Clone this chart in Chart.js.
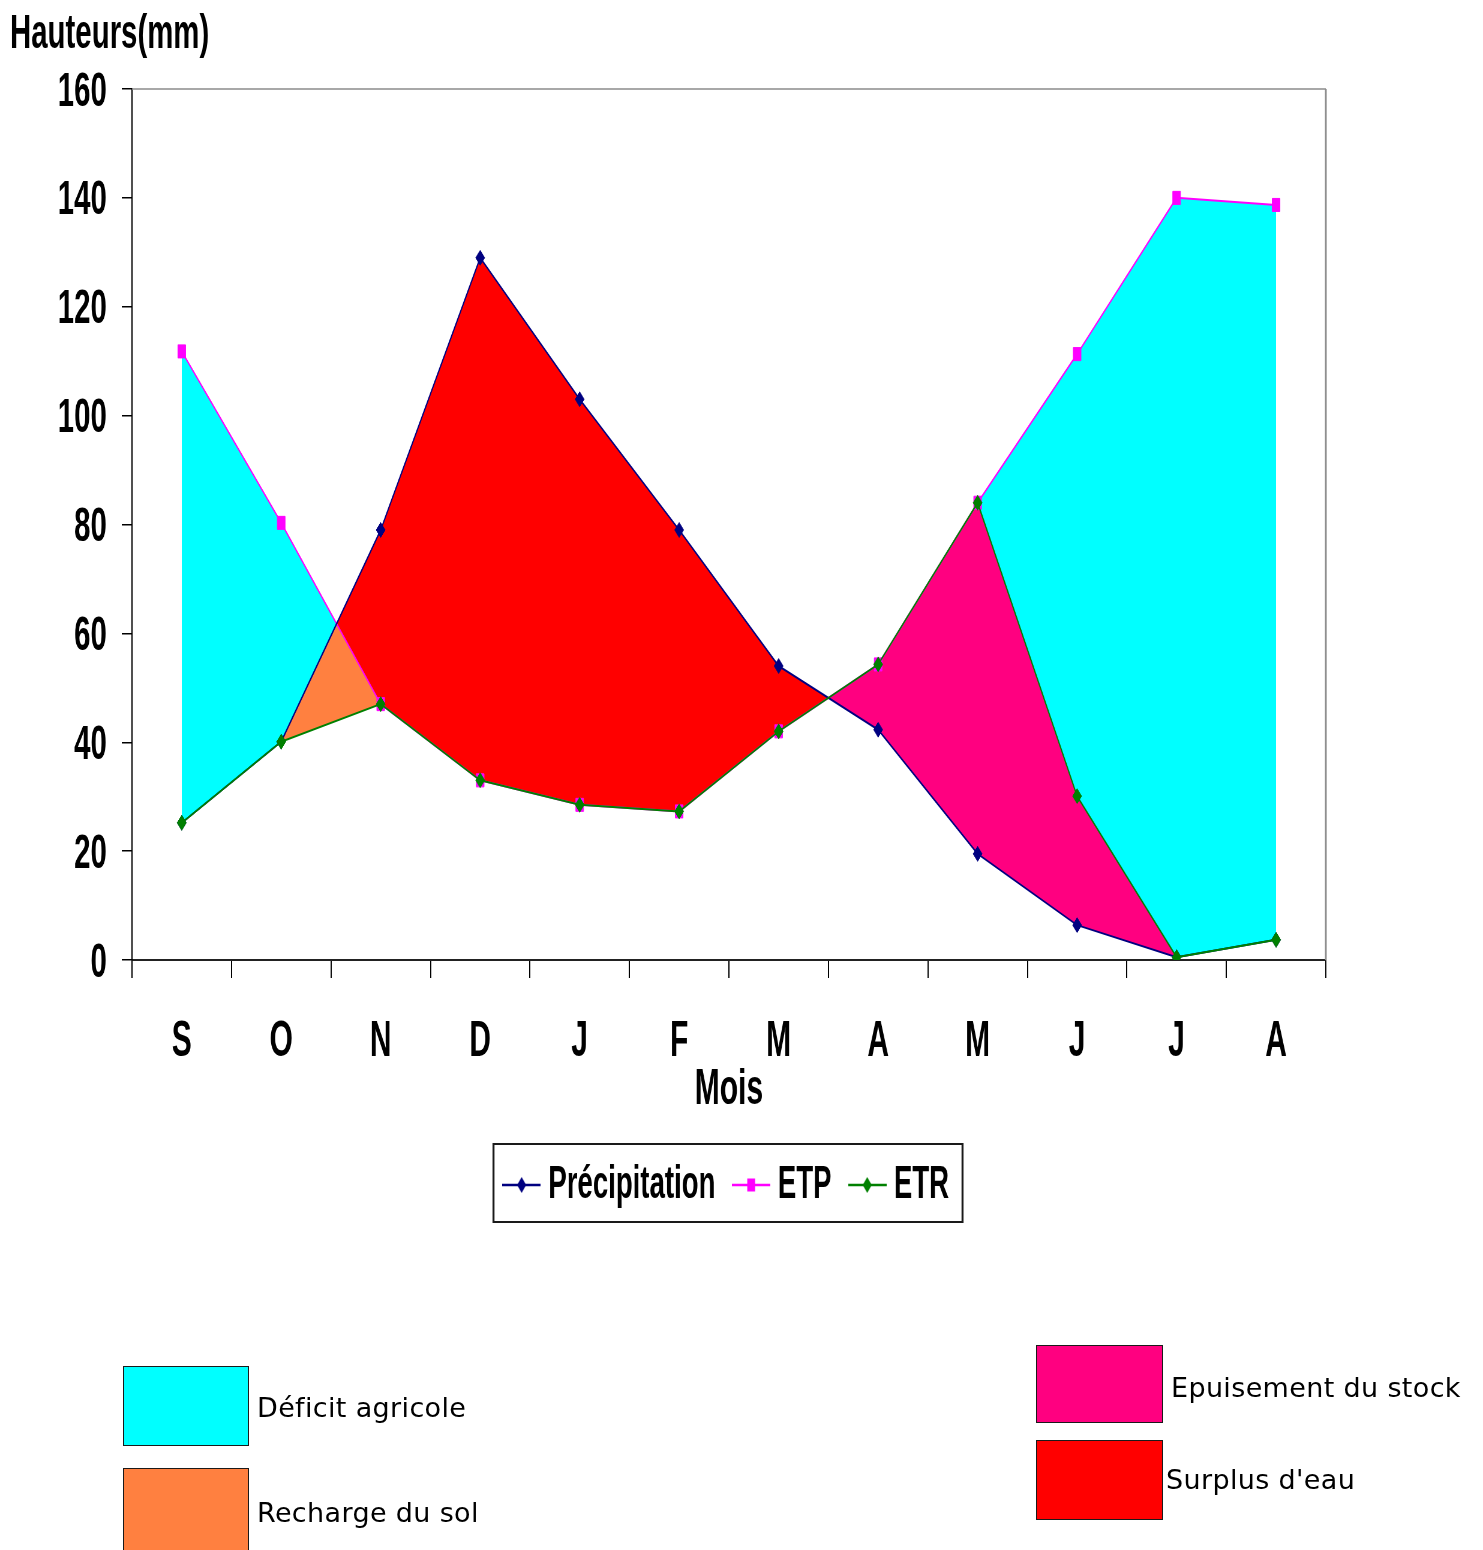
<!DOCTYPE html>
<html>
<head>
<meta charset="utf-8">
<script src="https://cdn.jsdelivr.net/npm/chart.js@4.4.1/dist/chart.umd.min.js"></script>
<style>
html,body{margin:0;padding:0;background:#fff;overflow:hidden;width:1483px;height:1550px;}
#wrap{position:relative;width:1483px;height:1550px;overflow:hidden;}
#c{position:absolute;left:0;top:0;}
.ttl{position:absolute;left:10px;top:7px;font:bold 49px/1 "Liberation Sans",Arial,sans-serif;transform:scaleX(0.6);transform-origin:0 0;white-space:nowrap;color:#000;}
.box{position:absolute;box-sizing:border-box;border:1px solid #1a1a1a;}
.lbl{position:absolute;font:27px/1 "DejaVu Sans",sans-serif;letter-spacing:0.35px;color:#000;white-space:nowrap;}
</style>
</head>
<body>
<div id="wrap">
<canvas id="c" width="2472" height="1550" style="width:1483px;height:1550px"></canvas>
<div class="ttl">Hauteurs(mm)</div>
<div class="box" style="left:123px;top:1366px;width:126px;height:80px;background:#00FFFF"></div>
<div class="lbl" style="left:257px;top:1394px">Déficit agricole</div>
<div class="box" style="left:123px;top:1468px;width:126px;height:100px;background:#FF8040"></div>
<div class="lbl" style="left:257px;top:1499px">Recharge du sol</div>
<div class="box" style="left:1036px;top:1345px;width:127px;height:78px;background:#FF0080"></div>
<div class="lbl" style="left:1171px;top:1374px">Epuisement du stock</div>
<div class="box" style="left:1036px;top:1440px;width:127px;height:80px;background:#FF0000"></div>
<div class="lbl" style="left:1166px;top:1466px">Surplus d'eau</div>
</div>
<script>
// ---- data ----
const months = ['S','O','N','D','J','F','M','A','M','J','J','A'];
const precipitation = [25.2, 40.1, 79, 129, 103, 79, 54, 42.3, 19.5, 6.4, 0.5, 3.7];
const etp = [111.8, 80.3, 47, 33, 28.5, 27.3, 42, 54.3, 84, 111.3, 140, 138.7];
const etr = [25.2, 40.1, 47, 33, 28.5, 27.3, 42, 54.3, 84, 30.1, 0.5, 3.7];
const yTickValues = [0, 20, 40, 60, 80, 100, 120, 140, 160];
const seriesNames = ['Précipitation', 'ETP', 'ETR'];
const xTitle = 'Mois';

// ---- styles ----
const NAVY = '#000080', MAG = '#FF00FF', GREEN = '#008000';
const CYAN = '#00FFFF', RED = '#FF0000', ORANGE = '#FF8040', PINK = '#FF0080';
const CLEAR = 'rgba(0,0,0,0)';
const FONT = '"Liberation Sans", Arial, sans-serif';

function legendSymbol(color, shape) {
  const c = document.createElement('canvas');
  c.width = 64; c.height = 24;
  const g = c.getContext('2d');
  g.strokeStyle = color; g.lineWidth = 2.5;
  g.beginPath(); g.moveTo(0, 12); g.lineTo(64, 12); g.stroke();
  g.fillStyle = color;
  g.beginPath();
  if (shape === 'rect') { g.rect(32 - 6.5, 12 - 6.5, 13, 13); }
  else { g.moveTo(32 - 7.5, 12); g.lineTo(32, 4); g.lineTo(39.5, 12); g.lineTo(32, 20); g.closePath(); }
  g.fill();
  return c;
}
const symbols = [legendSymbol(NAVY, 'diamond'), legendSymbol(MAG, 'rect'), legendSymbol(GREEN, 'diamond')];

const framePlugin = {
  id: 'frame',
  afterDraw(chart) {
    const {ctx, chartArea: a} = chart;
    ctx.save();
    ctx.fillStyle = '#8c8c8c';
    ctx.fillRect(a.left, a.top - 0.75, a.right - a.left, 1.5);
    ctx.fillRect(a.right - 1.5, a.top, 3, a.bottom - a.top);
    const hb = chart.legend && chart.legend.legendHitBoxes;
    if (hb && hb.length) {
      const first = hb[0], last = hb[hb.length - 1];
      const l = first.left - 10 - 17, r = last.left + last.width + 24;
      const t = first.top - 19, b = first.top + first.height + 15;
      ctx.fillStyle = '#1a1a1a';
      ctx.fillRect(l, t, r - l, 2);
      ctx.fillRect(l, b - 2, r - l, 2);
      ctx.fillRect(l, t, 3.3, b - t);
      ctx.fillRect(r - 3.3, t, 3.3, b - t);
    }
    ctx.restore();
  }
};

new Chart(document.getElementById('c'), {
  type: 'line',
  data: {
    labels: months,
    datasets: [
      {label: seriesNames[0], data: precipitation, borderColor: NAVY, backgroundColor: NAVY,
       pointStyle: 'rectRot', pointRadius: 7.5, pointBorderWidth: 1, borderWidth: 2, order: 1,
       fill: {target: 1, above: RED, below: CLEAR}},
      {label: seriesNames[1], data: etp, borderColor: MAG, backgroundColor: MAG,
       pointStyle: 'rect', pointRadius: 9.2, pointBorderWidth: 1, borderWidth: 2, order: 2, fill: false},
      {label: seriesNames[2], data: etr, borderColor: GREEN, backgroundColor: GREEN,
       pointStyle: 'rectRot', pointRadius: 7.5, pointBorderWidth: 1, borderWidth: 2, order: 0, fill: false},
      {label: 'p-etr', data: precipitation, borderColor: CLEAR, backgroundColor: CLEAR,
       pointRadius: 0, borderWidth: 1, order: 3, fill: {target: 2, above: ORANGE, below: PINK}},
      {label: 'etp-etr', data: etp, borderColor: CLEAR, backgroundColor: CLEAR,
       pointRadius: 0, borderWidth: 1, order: 4, fill: {target: 2, above: CYAN, below: CLEAR}}
    ]
  },
  options: {
    responsive: false,
    devicePixelRatio: 1,
    animation: false,
    events: [],
    elements: {line: {tension: 0}},
    layout: {padding: {left: 0, right: 262, top: 89, bottom: 332}},
    plugins: {
      filler: {drawTime: 'beforeDatasetsDraw', propagate: false},
      tooltip: {enabled: false},
      title: {display: false},
      legend: {
        position: 'bottom',
        fullSize: false,
        labels: {
          usePointStyle: true,
          pointStyleWidth: 43,
          padding: 38,
          color: '#000',
          font: {family: FONT, weight: 'bold', size: 46},
          filter: (item) => item.datasetIndex < 3,
          sort: (a, b) => a.datasetIndex - b.datasetIndex,
          generateLabels: (chart) => {
            const items = Chart.defaults.plugins.legend.labels.generateLabels(chart);
            items.forEach(it => { if (it.datasetIndex < 3) it.pointStyle = symbols[it.datasetIndex]; });
            return items;
          }
        }
      }
    },
    scales: {
      x: {
        offset: true,
        grid: {offset: true, drawOnChartArea: false, drawTicks: true, tickLength: 18, color: '#000', lineWidth: 2},
        border: {display: true, color: '#222', width: 2},
        ticks: {color: '#000', font: {family: FONT, weight: 'bold', size: 50}, padding: 34, maxRotation: 0, autoSkip: false},
        title: {display: true, text: xTitle, color: '#000', font: {family: FONT, weight: 'bold', size: 50}, padding: {top: 0, bottom: 4}},
        afterFit: (s) => { s.height = 164; }
      },
      y: {
        min: 0, max: 160,
        afterBuildTicks: (s) => { s.ticks = yTickValues.map(v => ({value: v})); },
        ticks: {color: '#000', font: {family: FONT, weight: 'bold', size: 49}, padding: 25, labelOffset: 3},
        grid: {drawOnChartArea: false, drawTicks: true, tickLength: 17, color: '#000', lineWidth: 1.5},
        border: {display: true, color: '#000', width: 2},
        afterFit: (s) => { s.width = 220; }
      }
    }
  },
  plugins: [framePlugin]
});
</script>
</body>
</html>
